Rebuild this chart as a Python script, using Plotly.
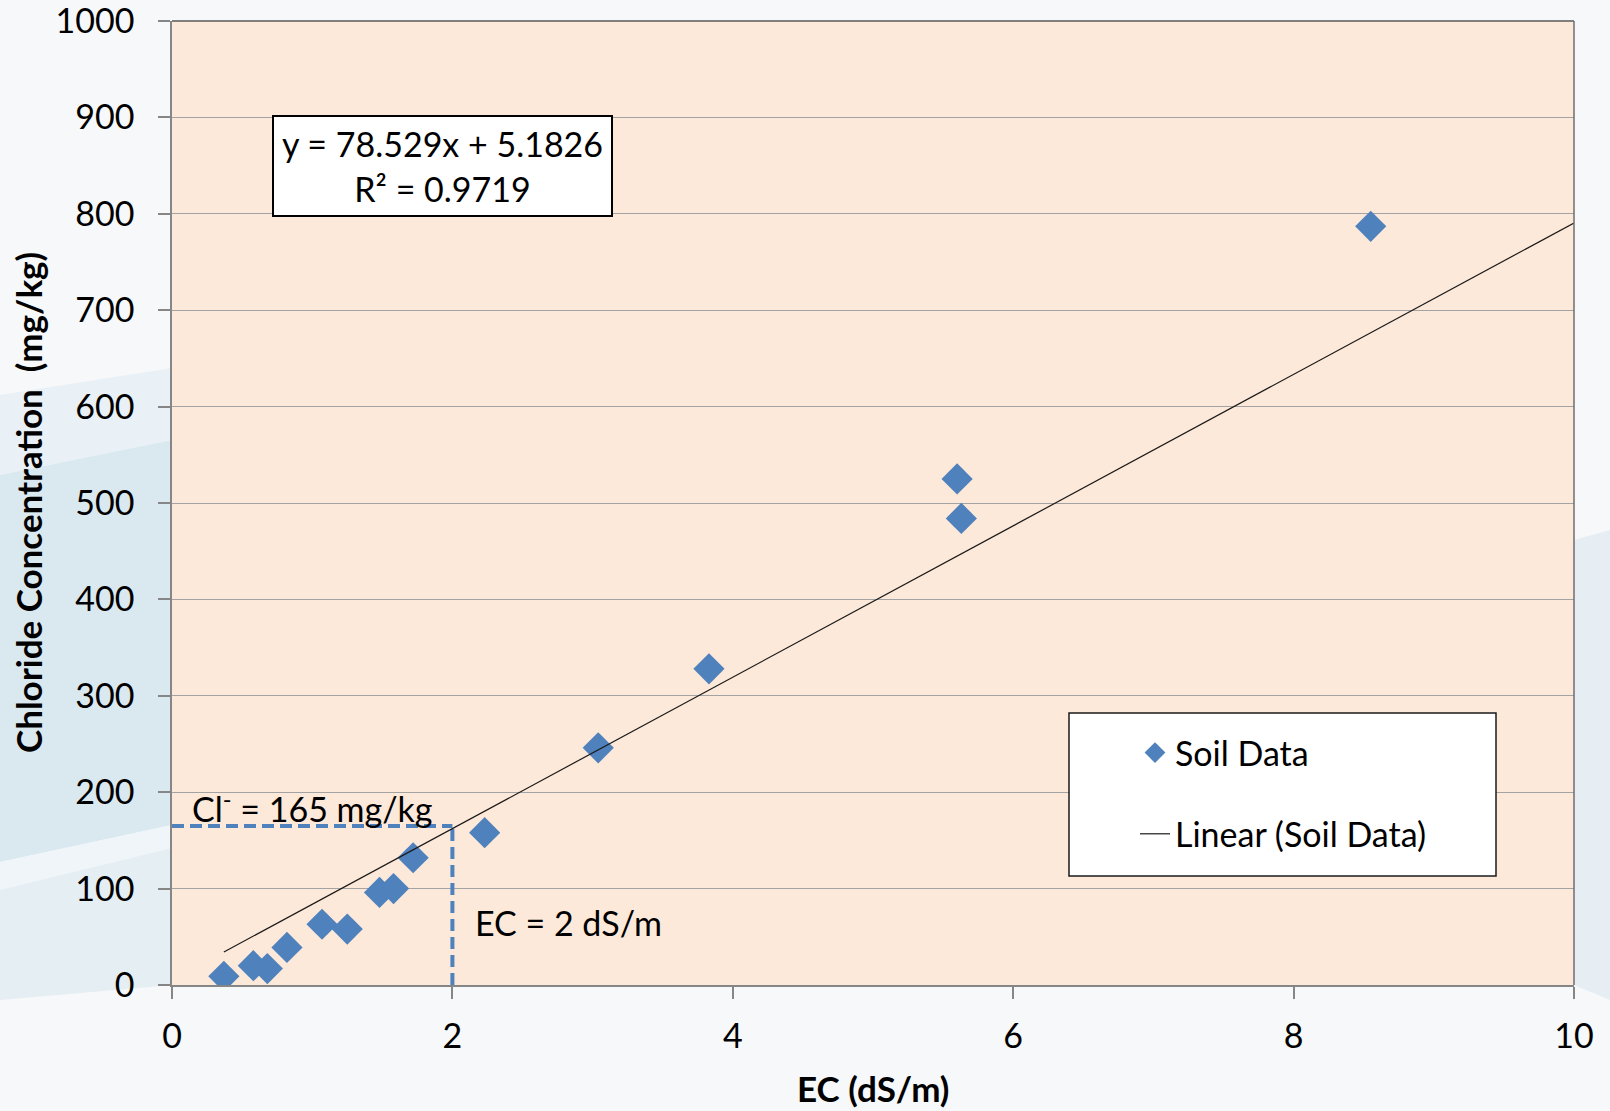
import numpy as np
import plotly.graph_objects as go

# Soil samples: electrical conductivity vs. chloride concentration
ec = [0.37, 0.58, 0.68, 0.82, 1.07, 1.25, 1.48, 1.58, 1.72, 2.23, 3.04, 3.83, 5.60, 5.63, 8.55]
chloride = [9, 20, 17, 39, 63, 58, 96, 100, 132, 158, 246, 328, 525, 484, 787]

# Linear fit reported for the soil data
slope = 78.529
intercept = 5.1826
r_squared = 0.9719

# Threshold read-off
ec_threshold = 2
cl_threshold = 165

x_ticks = [0, 2, 4, 6, 8, 10]
y_ticks = list(range(0, 1001, 100))

W, H = 1610, 1111
M_L, M_R, M_T, M_B = 172, 36, 21, 126
PLOT_W = W - M_L - M_R
PLOT_H = H - M_T - M_B
FONT = "Lato"
BLUE = "#4F81BD"


def px(x):
    """Page pixel x -> paper fraction."""
    return (x - M_L) / PLOT_W


def py(y):
    """Page pixel y -> paper fraction."""
    return (H - M_B - y) / PLOT_H


def poly(points):
    return "M " + " L ".join(f"{px(a):.5f},{py(b):.5f}" for a, b in points) + " Z"


fig = go.Figure()

# Threshold guides
fig.add_trace(go.Scatter(
    x=[0, ec_threshold], y=[cl_threshold, cl_threshold], mode="lines",
    line=dict(color=BLUE, width=4, dash="12px,6px"), showlegend=False,
    hoverinfo="skip", cliponaxis=False,
))
fig.add_trace(go.Scatter(
    x=[ec_threshold, ec_threshold], y=[0, cl_threshold], mode="lines",
    line=dict(color=BLUE, width=4, dash="12px,6px"), showlegend=False,
    hoverinfo="skip", cliponaxis=False,
))

# Measured points
fig.add_trace(go.Scatter(
    x=ec, y=chloride, mode="markers", name="Soil Data", legendgroup="data",
    marker=dict(symbol="diamond", size=24, color=BLUE, line=dict(width=0)),
))

# Trend line
fit_x = np.array([min(ec), x_ticks[-1]])
fit_y = slope * fit_x + intercept
fig.add_trace(go.Scatter(
    x=fit_x, y=fit_y, mode="lines", name="Linear (Soil Data)", legendgroup="fit",
    line=dict(color="#1a1a1a", width=1.2),
))

# Soft background bands in the page margins
bg_shapes = [
    ([(0, 395), (M_L, 368), (M_L, 440), (0, 475)], "#e9f1f6"),
    ([(0, 475), (M_L, 440), (M_L, 825), (0, 862)], "#dae8f0"),
    ([(0, 862), (M_L, 825), (M_L, 848), (0, 890)], "#eff5f8"),
    ([(0, 890), (M_L, 848), (M_L, 985), (0, 1000)], "#e5eef3"),
    ([(W - M_R, 540), (W, 530), (W, 1000), (W - M_R, 985)], "#e6eef3"),
]
shapes = []
for pts, col in bg_shapes:
    shapes.append(dict(type="path", path=poly(pts), xref="paper", yref="paper",
                       fillcolor=col, line=dict(width=0), layer="below"))

# Plot frame (top and right edges)
shapes.append(dict(type="line", xref="paper", yref="paper", x0=0, x1=1, y0=1, y1=1,
                   line=dict(color="#595959", width=1.5), layer="above"))
shapes.append(dict(type="line", xref="paper", yref="paper", x0=1, x1=1, y0=0, y1=1,
                   line=dict(color="#6e6e6e", width=1.5), layer="above"))

# Legend panel
shapes.append(dict(type="rect", xref="paper", yref="paper",
                   x0=px(1069), x1=px(1496), y0=py(876), y1=py(713),
                   fillcolor="white", line=dict(color="#1a1a1a", width=1.5), layer="above"))

annotations = [
    dict(text=f"y = {slope}x + {intercept}<br>R² = {r_squared}",
         xref="paper", yref="paper", x=px(442.5), y=py(166),
         xanchor="center", yanchor="middle", showarrow=False, align="center",
         bgcolor="white", bordercolor="black", borderwidth=2, borderpad=0,
         width=337, height=98, font=dict(family=FONT, size=34, color="black")),
    dict(text=f"Cl<sup>-</sup> = {cl_threshold} mg/kg", x=0.13, y=185,
         xref="x", yref="y", xanchor="left", yanchor="middle", showarrow=False,
         font=dict(family=FONT, size=34, color="black")),
    dict(text=f"EC = {ec_threshold} dS/m", x=2.15, y=65,
         xref="x", yref="y", xanchor="left", yanchor="middle", showarrow=False,
         font=dict(family=FONT, size=34, color="black")),
    dict(text="<b>Chloride Concentration  (mg/kg)</b>", xref="paper", yref="paper",
         x=px(28), y=py(503), textangle=-90, xanchor="center", yanchor="middle",
         showarrow=False, font=dict(family=FONT, size=35, color="black")),
    dict(text="<b>EC (dS/m)</b>", xref="paper", yref="paper",
         x=0.5, y=py(1088), xanchor="center", yanchor="middle",
         showarrow=False, font=dict(family=FONT, size=35, color="black")),
]

fig.update_layout(
    width=W, height=H,
    margin=dict(l=M_L, r=M_R, t=M_T, b=M_B, autoexpand=False),
    paper_bgcolor="#f6f8fa",
    plot_bgcolor="#FDE9D9",
    font=dict(family=FONT, size=34, color="black"),
    shapes=shapes,
    annotations=annotations,
    showlegend=True,
    legend=dict(
        x=px(1135), y=py(724), xanchor="left", yanchor="top",
        bgcolor="rgba(0,0,0,0)", borderwidth=0,
        font=dict(family=FONT, size=34, color="black"),
        tracegroupgap=34, itemsizing="trace",
    ),
    xaxis=dict(
        range=[x_ticks[0], x_ticks[-1]], tickvals=x_ticks, showgrid=False, zeroline=False,
        showline=True, linecolor="#868686", linewidth=1.5,
        ticks="outside", ticklen=12, tickcolor="#868686", tickwidth=1.5,
        tickfont=dict(family=FONT, size=34, color="black"), ticklabelstandoff=8,
        ticklabeloverflow="allow",
    ),
    yaxis=dict(
        range=[y_ticks[0], y_ticks[-1]], tickvals=y_ticks, showgrid=True,
        gridcolor="#a3a3a3", gridwidth=1.2, zeroline=False,
        showline=True, linecolor="#868686", linewidth=1.5,
        ticks="outside", ticklen=12, tickcolor="#868686", tickwidth=1.5,
        tickfont=dict(family=FONT, size=34, color="black"), ticklabelstandoff=17,
        ticklabeloverflow="allow",
    ),
)

fig.write_html("out.html")
